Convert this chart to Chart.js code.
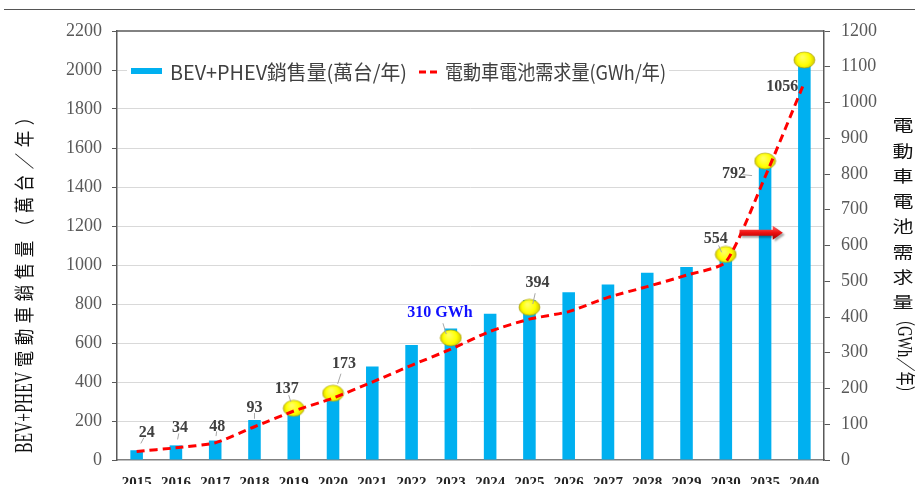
<!DOCTYPE html>
<html><head><meta charset="utf-8">
<script src="https://cdn.jsdelivr.net/npm/chart.js@4.4.1/dist/chart.umd.min.js"></script>
<style>html,body{margin:0;padding:0;background:#fff;}canvas{display:block;}</style>
</head><body>
<canvas id="c" width="915" height="484"></canvas>
<script>
// ---- data ----
const years = ['2015','2016','2017','2018','2019','2020','2021','2022','2023','2024','2025','2026','2027','2028','2029','2030','2035','2040'];
const salesValues = [50,75,100,205,280,350,480,590,675,750,820,860,900,960,990,1050,1530,2020];
const batteryDemand = [24,34,48,93,137,173,218,265,310,360,394,415,455,485,517,554,792,1056];
const markerLevels = [null,null,null,null,265,342,null,null,626,null,783,null,null,null,null,1054,1533,2051];
const labelledYears = ['2015','2016','2017','2018','2019','2020','2023','2025','2030','2035','2040'];
const specialLabels = {'2023':'310 GWh'};
const salesLabel = 'BEV+PHEV銷售量(萬台/年)';
const demandLabel = '電動車電池需求量(GWh/年)';
const leftTitleLatin = 'BEV+PHEV';
const leftTitleCJK = '電動車銷售量（萬台／年）';
const rightTitleCJK = '電動車電池需求量';
const rightTitleRun = '（GWh／年）';
const leftAxisMax = 2200, leftLabelStep = 200, leftTickStep = 100;
const rightAxisMax = 1200, rightLabelStep = 100, rightTickStep = 50;
const arrowAnchor = {fromIndex: 15.35, toIndex: 16.45, value: 636};

// ---- layout / styles (not data) ----
const labelOffsets = {'2015':[10,-19],'2016':[4,-20],'2017':[2,-16],'2018':[0,-19],'2019':[-7,-22],'2020':[11,-34],
  '2023':[-11,-36],'2025':[8,-36],'2030':[-10,-23],'2035':[-31,-3],'2040':[-22,4]};

function makeEllipse(w,h){
  const c=document.createElement('canvas'); c.width=w+2; c.height=h+2;
  const g=c.getContext('2d');
  const cx=w/2+1, cy=h/2+1;
  const grd=g.createRadialGradient(cx-2,cy-3,1,cx,cy,w/2);
  grd.addColorStop(0,'#ffff60'); grd.addColorStop(0.6,'#ffff00'); grd.addColorStop(1,'#d2c800');
  g.fillStyle=grd; g.beginPath(); g.ellipse(cx,cy,w/2,h/2,0,0,Math.PI*2); g.fill();
  g.strokeStyle='rgba(160,150,0,0.6)'; g.lineWidth=1; g.stroke();
  return c;
}
const ellipseImg = makeEllipse(21,16);

const decor = {
  id:'decor',
  beforeDraw(chart){
    const ctx=chart.ctx; ctx.save();
    ctx.strokeStyle='#555'; ctx.lineWidth=1.2;
    ctx.beginPath(); ctx.moveTo(4,9.5); ctx.lineTo(915,9.5); ctx.stroke();
    ctx.restore();
  },
  beforeDatasetsDraw(chart){
    const ctx=chart.ctx, a=chart.chartArea; ctx.save();
    // legend
    ctx.fillStyle='#fff'; ctx.fillRect(a.left+10,58,542,28);
    ctx.fillStyle='#00B0F0'; ctx.fillRect(a.left+14,68,31,6);
    ctx.font='20px "Noto Sans CJK TC"'; ctx.fillStyle='#404040'; ctx.textBaseline='middle'; ctx.textAlign='left';
    const t1=chart.data.datasets[0].label, t2=chart.data.datasets[1].label;
    let w=ctx.measureText(t1).width; ctx.save(); ctx.translate(a.left+53,72); ctx.scale(237/w,1); ctx.fillText(t1,0,0); ctx.restore();
    ctx.strokeStyle='#FF0000'; ctx.lineWidth=3; ctx.setLineDash([7,4]);
    ctx.beginPath(); ctx.moveTo(a.left+302,72); ctx.lineTo(a.left+320,72); ctx.stroke(); ctx.setLineDash([]);
    w=ctx.measureText(t2).width; ctx.save(); ctx.translate(a.left+328,72); ctx.scale(221/w,1); ctx.fillText(t2,0,0); ctx.restore();
    ctx.restore();
  },
  afterDatasetsDraw(chart){
    const ctx=chart.ctx; ctx.save();
    const meta=chart.getDatasetMeta(1);
    ctx.textAlign='center'; ctx.textBaseline='middle';
    labelledYears.forEach(y=>{
      const i=years.indexOf(y); const p=meta.data[i]; const off=labelOffsets[y];
      const lx=p.x+off[0], ly=p.y+off[1];
      ctx.strokeStyle='#a6a6a6'; ctx.lineWidth=1;
      ctx.beginPath(); ctx.moveTo(p.x+(lx-p.x)*0.72,p.y+(ly-p.y)*0.72); ctx.lineTo(p.x+(lx-p.x)*0.42,p.y+(ly-p.y)*0.42); ctx.stroke();
      const txt=specialLabels[y]||String(batteryDemand[i]);
      ctx.font='bold 16px "Liberation Serif"';
      ctx.fillStyle=specialLabels[y]?'#1010ff':'#404040';
      ctx.fillText(txt,lx,ly);
    });
    // arrow
    const xs=chart.scales.x, ys=chart.scales.y1;
    const x0=xs.getPixelForValue(arrowAnchor.fromIndex), x1=xs.getPixelForValue(arrowAnchor.toIndex), yc=ys.getPixelForValue(arrowAnchor.value);
    ctx.shadowColor='rgba(0,0,0,0.35)'; ctx.shadowOffsetX=2; ctx.shadowOffsetY=2; ctx.shadowBlur=2;
    const g=ctx.createLinearGradient(0,yc-7,0,yc+7); g.addColorStop(0,'#ff6a6a'); g.addColorStop(0.5,'#ee1111'); g.addColorStop(1,'#a00000');
    ctx.fillStyle=g;
    ctx.beginPath(); ctx.moveTo(x0,yc-3); ctx.lineTo(x1-10,yc-3); ctx.lineTo(x1-10,yc-7); ctx.lineTo(x1,yc); ctx.lineTo(x1-10,yc+7); ctx.lineTo(x1-10,yc+3); ctx.lineTo(x0,yc+3); ctx.closePath(); ctx.fill();
    ctx.restore();
  },
  afterDraw(chart){
    const ctx=chart.ctx, a=chart.chartArea; ctx.save();
    // top border
    ctx.strokeStyle='#595959'; ctx.lineWidth=1.5;
    ctx.beginPath(); ctx.moveTo(a.left,a.top); ctx.lineTo(a.right,a.top); ctx.stroke();
    // left title
    ctx.fillStyle='#111'; ctx.textBaseline='middle';
    ctx.save(); ctx.translate(24,453); ctx.rotate(-Math.PI/2);
    ctx.font='25px "Liberation Serif"'; ctx.textAlign='left';
    let w=ctx.measureText(leftTitleLatin).width;
    ctx.save(); ctx.scale(81/w,1); ctx.fillText(leftTitleLatin,0,1); ctx.restore();
    ctx.font='20px "Noto Sans CJK TC"'; ctx.textAlign='center';
    [...leftTitleCJK].forEach((ch,i)=>{ ctx.save(); ctx.translate(94+i*22,0); ctx.scale(0.82,1); ctx.fillText(ch,0,0); ctx.restore(); });
    ctx.restore();
    // right title
    ctx.font='21px "Noto Sans CJK TC"'; ctx.textAlign='center';
    [...rightTitleCJK].forEach((ch,i)=>{ ctx.save(); ctx.translate(903,125+i*25.3); ctx.scale(1,0.78); ctx.fillText(ch,0,0); ctx.restore(); });
    ctx.save(); ctx.translate(903,312); ctx.rotate(Math.PI/2);
    ctx.font='20px "Liberation Serif", "Noto Sans CJK TC"'; ctx.textAlign='left';
    w=ctx.measureText(rightTitleRun).width; ctx.scale(88/w,1); ctx.fillText(rightTitleRun,0,0);
    ctx.restore();
    ctx.restore();
  }
};

new Chart(document.getElementById('c'),{
  data:{
    labels: years,
    datasets:[
      {type:'bar', label:salesLabel, data:salesValues, backgroundColor:'#00B0F0', yAxisID:'y', order:3, categoryPercentage:1, barPercentage:0.32},
      {type:'line', label:demandLabel, data:batteryDemand, borderColor:'#FF0000', borderWidth:3, borderDash:[8,5], pointRadius:0, tension:0.2, yAxisID:'y1', order:1},
      {type:'line', label:'marker', data:markerLevels, showLine:false, pointStyle:ellipseImg, pointRadius:10, yAxisID:'y', order:2}
    ]
  },
  options:{
    responsive:false, animation:false, devicePixelRatio:1,
    layout:{padding:{top:31,left:0,right:0,bottom:0}},
    plugins:{legend:{display:false}, tooltip:{enabled:false}},
    scales:{
      x:{type:'category', offset:true, grid:{display:false, drawTicks:false},
         border:{display:true,color:'#808080',width:1.5},
         ticks:{autoSkip:false,maxRotation:0,padding:14,color:'#262626',font:{family:'Liberation Serif',size:15,weight:'bold'}},
         afterFit(s){s.height=24;}},
      y:{position:'left', min:0, max:leftAxisMax,
         ticks:{stepSize:leftTickStep, padding:10, color:'#595959', font:{family:'Liberation Serif',size:18},
                callback:v=> v%leftLabelStep===0 ? v : ''},
         grid:{color:c=> (c.tick && c.tick.value%leftLabelStep===0 && c.tick.value>0 && c.tick.value<leftAxisMax)?'#d9d9d9':'rgba(0,0,0,0)',
               tickColor:'#595959', tickLength:5, lineWidth:1},
         border:{color:'#595959',width:1.5},
         afterFit(s){s.width=117;}},
      y1:{position:'right', min:0, max:rightAxisMax,
         ticks:{stepSize:rightTickStep, padding:11, color:'#595959', font:{family:'Liberation Serif',size:18},
                callback:v=> v%rightLabelStep===0 ? v : ''},
         grid:{drawOnChartArea:false, tickColor:'#595959', tickLength:6},
         border:{color:'#595959',width:1.5},
         afterFit(s){s.width=91;}}
    }
  },
  plugins:[decor]
});
</script>
</body></html>
